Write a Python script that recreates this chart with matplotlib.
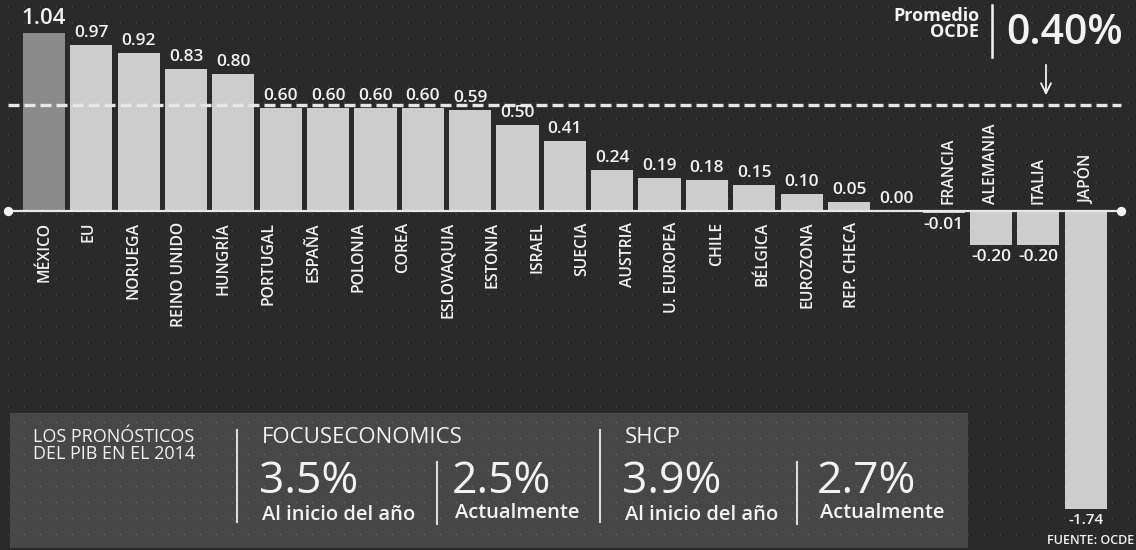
import matplotlib
matplotlib.use("Agg")
import matplotlib.pyplot as plt
import numpy as np

# ---- data ----
countries = ["MÉXICO", "EU", "NORUEGA", "REINO UNIDO", "HUNGRÍA", "PORTUGAL", "ESPAÑA",
             "POLONIA", "COREA", "ESLOVAQUIA", "ESTONIA", "ISRAEL", "SUECIA", "AUSTRIA",
             "U. EUROPEA", "CHILE", "BÉLGICA", "EUROZONA", "REP. CHECA", "FRANCIA",
             "ALEMANIA", "ITALIA", "JAPÓN"]
values = [1.04, 0.97, 0.92, 0.83, 0.80, 0.60, 0.60, 0.60, 0.60, 0.59, 0.50, 0.41, 0.24,
          0.19, 0.18, 0.15, 0.10, 0.05, 0.00, -0.01, -0.20, -0.20, -1.74]
value_labels = ["1.04", "0.97", "0.92", "0.83", "0.80", "0.60", "0.60", "0.60", "0.60",
                "0.59", "0.50", "0.41", "0.24", "0.19", "0.18", "0.15", "0.10", "0.05",
                "0.00", "-0.01", "-0.20", "-0.20", "-1.74"]
ocde_label = "0.40%"
ocde_line_level = 0.62   # where the dashed reference line is drawn in the picture

forecast_sources = ["FOCUSECONOMICS", "SHCP"]
forecast_start = ["3.5%", "3.9%"]
forecast_now = ["2.5%", "2.7%"]

# ---- style ----
FONT = "Open Sans"
plt.rcParams["font.family"] = [FONT, "DejaVu Sans"]
BG = "#2a2a2a"
BOX = "#474747"
BAR = "#cdcdcd"
BAR_MX = "#8a8a8a"
TXT = "#f2f2f2"

W, H = 1136, 550
fig = plt.figure(figsize=(W / 100, H / 100), dpi=100)
fig.patch.set_facecolor(BG)

ax = fig.add_axes([0, 0, 1, 1])
ax.set_facecolor(BG)
slot = 47.35
x0_px = 44
ppu = 171.2
base_px = 211
ax.set_xlim(-x0_px / slot, (W - x0_px) / slot)
ax.set_ylim(-(H - base_px) / ppu, base_px / ppu)
ax.axis("off")

# pixel helpers for decorations (text/box positions)
def px(x):
    return (x - x0_px) / slot
def py(y):
    return (base_px - y) / ppu

# subtle dot texture
gx, gy = np.meshgrid(np.arange(8, W, 16), np.arange(6, H, 16))
ax.scatter(px(gx.ravel()), py(gy.ravel()), s=2.2, color="#3a3a3a", lw=0, zorder=0)

# bottom box
box = plt.Rectangle((px(10), py(548)), px(968) - px(10), py(413) - py(548),
                    facecolor=BOX, edgecolor="none", zorder=0.5)
ax.add_patch(box)
gx2, gy2 = np.meshgrid(np.arange(24, 968, 16), np.arange(422, 548, 16))
ax.scatter(px(gx2.ravel()), py(gy2.ravel()), s=2.2, color="#565656", lw=0, zorder=0.6)

# bars
idx = np.arange(len(values))
colors = [BAR_MX] + [BAR] * (len(values) - 1)
ax.bar(idx, values, width=0.89, color=colors, zorder=2)

# axis line with end dots
ax.plot([px(8), px(1121)], [0, 0], color="#e8e8e8", lw=1.6, zorder=3)
ax.scatter([px(8), px(1121)], [0, 0], s=45, color="#f4f4f4", zorder=4, lw=0)

# dashed reference line
ax.plot([px(8), px(1121)], [ocde_line_level, ocde_line_level], color="#e6e6e6",
        lw=2.4, dashes=(3.3, 1.5), zorder=5)

# value labels
for i, (v, lab) in enumerate(zip(values, value_labels)):
    fs = 16 if i == 0 else 12.5
    if v >= 0:
        ax.text(i, v + 4 / ppu, lab, ha="center", va="bottom", fontsize=fs,
                color=TXT, fontweight="semibold", zorder=6)
    else:
        ax.text(i, v - 4 / ppu, lab, ha="center", va="top",
                fontsize=11 if i == len(values) - 1 else 12.5,
                color=TXT, fontweight="semibold", zorder=6)

# country names (drifting slightly like the original layout)
name_step = 0.948
for i, (v, name) in enumerate(zip(values, countries)):
    if v >= 0:
        ax.text(i * name_step, py(222), name, rotation=90, ha="center", va="top",
                fontsize=11.3, color=TXT, fontweight="semibold", zorder=6)
    else:
        ax.text(i + 0.1 if i == 19 else i, py(204), name, rotation=90, ha="center",
                va="bottom", fontsize=11.3, color=TXT, fontweight="semibold", zorder=6)

# OCDE annotation
ax.text(px(979), py(7), "Promedio\nOCDE", ha="right", va="top", fontsize=13,
        fontweight="bold", color=TXT, linespacing=0.88, zorder=6)
ax.plot([px(992), px(992)], [py(5), py(57)], color=TXT, lw=1.8, zorder=6)
ax.text(px(1006), py(33), ocde_label, ha="left", va="center", fontsize=29.5,
        color=TXT, fontweight="semibold", zorder=6)
ax.annotate("", xy=(px(1046), py(98)), xytext=(px(1046), py(62)),
            arrowprops=dict(arrowstyle="->", color=TXT, lw=1.3,
                            mutation_scale=18), zorder=6)

# bottom panel texts
ax.text(px(33), py(428), "LOS PRONÓSTICOS\nDEL PIB EN EL 2014", ha="left", va="top",
        fontsize=13, color=TXT, linespacing=0.95, zorder=6)
for xs in (237, 600):
    ax.plot([px(xs), px(xs)], [py(430), py(522)], color="#dcdcdc", lw=1.5, zorder=6)
for xs in (437, 797):
    ax.plot([px(xs), px(xs)], [py(462), py(524)], color="#dcdcdc", lw=1.5, zorder=6)

for k, xl in enumerate((262, 625)):
    ax.text(px(xl), py(427), forecast_sources[k], ha="left", va="top", fontsize=16,
            color=TXT, zorder=6)
    ax.text(px(xl - 3), py(482), forecast_start[k], ha="left", va="center", fontsize=32,
            color=TXT, zorder=6)
    ax.text(px(xl), py(515), "Al inicio del año", ha="left", va="center", fontsize=14.5,
            color=TXT, fontweight="semibold", zorder=6)
for k, xl in enumerate((455, 820)):
    ax.text(px(xl - 3), py(482), forecast_now[k], ha="left", va="center", fontsize=32,
            color=TXT, zorder=6)
    ax.text(px(xl), py(513), "Actualmente", ha="left", va="center", fontsize=14.5,
            color=TXT, fontweight="semibold", zorder=6)

ax.text(px(1134), py(541), "FUENTE: OCDE", ha="right", va="center", fontsize=9,
        color=TXT, fontweight="semibold", zorder=6)

fig.savefig("out.png", dpi=100, facecolor=BG)
